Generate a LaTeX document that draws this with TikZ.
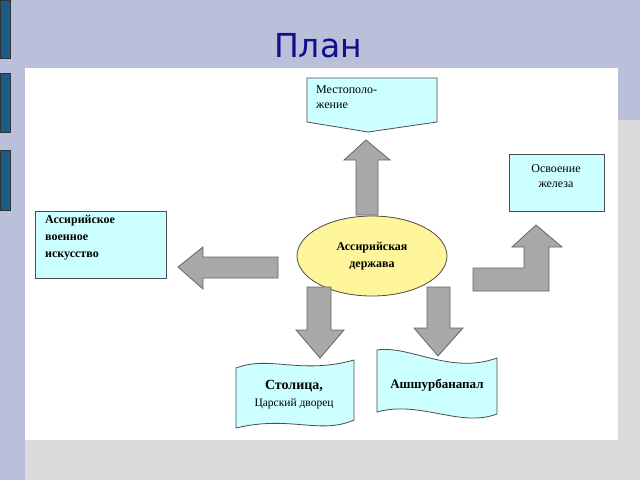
\documentclass[tikz,border=0pt]{standalone}
\usepackage{fontspec}
\usetikzlibrary{shapes.geometric}
\setmainfont{Liberation Serif}
\newfontfamily\titlefont{DejaVu Sans}
\begin{document}
\begin{tikzpicture}[x=1pt,y=-1pt,
  box/.style={draw=black!70,fill=boxc,line width=0.8pt},
  arr/.style={draw=black!60,fill=arrc,line width=0.8pt},
  txt/.style={font=\fontsize{12}{15}\selectfont,align=left,inner sep=0pt},
  btxt/.style={font=\fontsize{12}{17}\selectfont\bfseries,align=left,inner sep=0pt}]
\definecolor{boxc}{HTML}{CCFFFF}
\definecolor{arrc}{HTML}{A8A8A8}
\definecolor{lav}{HTML}{BABFDA}
\definecolor{grayb}{HTML}{DADADA}
\definecolor{barc}{HTML}{1C5A88}
\definecolor{titc}{HTML}{10108A}
\definecolor{ell}{HTML}{FFF59A}
\useasboundingbox (0,0) rectangle (640,480);
\fill[lav] (0,0) rectangle (640,480);
\fill[grayb] (25,120) rectangle (640,480);
\fill[white] (25,68) rectangle (618,440);
\foreach \a/\b in {0/58,73/132,150/210}
  \fill[barc,draw=black!80] (0,\a) rectangle (10,\b);
\node[font=\titlefont\fontsize{33}{33}\selectfont,text=titc] (title) at (318,46) {План};
% top box
\draw[box] (307,78) -- (437,78) -- (437,122) -- (368,132) -- (307,122) -- cycle;
\node[txt,anchor=north west] (top) at (316,85) {Местополо-\\жение};
\draw[arr] (356,215) -- (356,160) -- (344,160) -- (366,140) -- (390,160) -- (378,160) -- (378,215) -- cycle;
% ellipse
\node[ellipse,draw=black!70,fill=ell,line width=0.8pt,minimum width=150,minimum height=80,btxt,align=center] (c) at (372,256) {Ассирийская\\держава};
% left box
\draw[box] (35,211) rectangle (166,278);
\node[btxt,anchor=north west] (left) at (45,215) {Ассирийское\\военное\\искусство};
\draw[arr] (278,257) -- (203,257) -- (203,247) -- (178,267) -- (203,289) -- (203,278) -- (278,278) -- cycle;
% right box
\draw[box] (509,154) rectangle (604,211);
\node[txt,align=center] (right) at (556,176) {Освоение\\железа};
\draw[arr] (473,268) -- (524,268) -- (524,247) -- (512,247) -- (536,225) -- (562,247) -- (549,247) -- (549,291) -- (473,291) -- cycle;
% down arrows
\draw[arr] (307,287) -- (331,287) -- (331,330) -- (344,330) -- (320,358) -- (296,330) -- (307,330) -- cycle;
\draw[arr] (427,287) -- (450,287) -- (450,328) -- (463,328) -- (438,356) -- (414,328) -- (427,328) -- cycle;
% wave boxes
\draw[box] (236,368) .. controls (270,355) and (300,375) .. (354,360) -- (354,420)
  .. controls (320,435) and (290,415) .. (236,428) -- cycle;
\node[btxt,align=center,font=\fontsize{14}{16}\selectfont\bfseries] (cap) at (294,386) {Столица,};
\node[txt,align=center,font=\fontsize{11.5}{13}\selectfont] (cap2) at (294,404) {Царский дворец};
\draw[box] (377,350) .. controls (410,345) and (450,375) .. (497,358) -- (497,414)
  .. controls (460,428) and (420,400) .. (377,412) -- cycle;
\node[btxt,align=center,font=\fontsize{13}{15}\selectfont\bfseries] (ash) at (437,385) {Ашшурбанапал};
\end{tikzpicture}
\end{document}
